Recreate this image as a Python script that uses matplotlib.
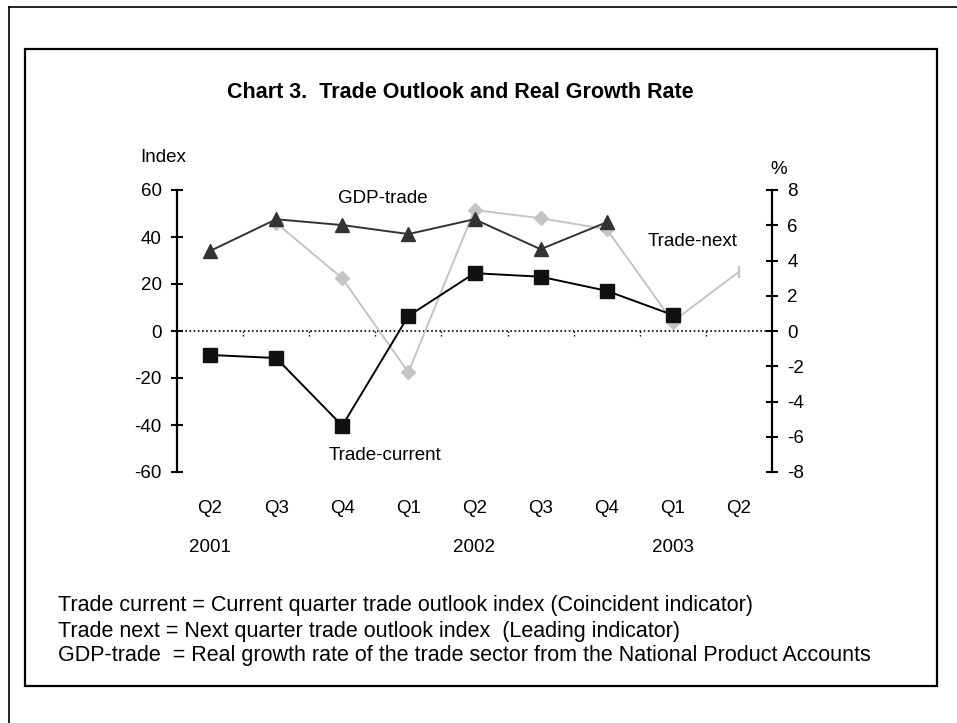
import numpy as np
import matplotlib
matplotlib.use("Agg")
import matplotlib.pyplot as plt
from matplotlib.lines import Line2D
from matplotlib.patches import Rectangle

plt.rcParams["font.family"] = ["Liberation Sans", "DejaVu Sans"]
plt.rcParams["axes.unicode_minus"] = False

# data
quarters = ["Q2", "Q3", "Q4", "Q1", "Q2", "Q3", "Q4", "Q1", "Q2"]
years = ["2001", "2002", "2003"]
year_idx = [0, 4, 7]
trade_current = [-10.2, -11.5, -40.3, 6.4, 24.6, 23.1, 17.1, 6.8, np.nan]
trade_next = [np.nan, 46.0, 22.4, -17.6, 51.5, 48.0, 43.3, 4.0, 25.2]
gdp_trade = [4.54, 6.34, 6.01, 5.5, 6.34, 4.64, 6.17, np.nan, np.nan]

W, H = 957, 723


def fx(px):
    return px / W


def fy(py):
    return 1 - py / H


fig = plt.figure(figsize=(W / 100, H / 100), dpi=100)

# frames
fig.add_artist(Line2D([fx(9), fx(9)], [fy(7), 0], color="black", lw=1.2))
fig.add_artist(Line2D([fx(9), 1], [fy(7), fy(7)], color="black", lw=1.2))
fig.add_artist(Rectangle((fx(25), fy(686)), fx(937) - fx(25), fy(49) - fy(686),
                         fill=False, ec="black", lw=1.6, transform=fig.transFigure))

fig.text(fx(460), fy(92), "Chart 3.  Trade Outlook and Real Growth Rate",
         ha="center", va="center", fontsize=15.5, fontweight="bold")

ax = fig.add_axes([fx(177), fy(472), fx(772) - fx(177), fy(190) - fy(472)])
x = np.arange(len(quarters))

ax.plot(x, trade_next, color="#c4c4c4", lw=1.4, marker="D", ms=7,
        markevery=slice(0, len(x) - 1), zorder=2)
ax.plot(x[-1:], trade_next[-1:], color="#c4c4c4", marker="|", ms=9, mew=1.6, zorder=2)
ax.plot(x, trade_current, color="black", lw=1.4, marker="s", ms=9.5,
        mfc="#111111", mec="#111111", zorder=3)

ax.axhline(0, color="black", lw=1.2, ls=(0, (1, 1.5)), zorder=1)
ax.vlines(x[:-1] + 0.5, -2.2, 0, color="black", lw=1.0, ls=(0, (1, 1.5)), zorder=1)

ax.set_xlim(-0.5, len(x) - 0.5)
ax.set_ylim(-60, 60)
ax.set_yticks(range(-60, 61, 20))
ax.set_xticks(x)
ax.set_xticklabels(quarters)
ax.tick_params(axis="x", length=0, pad=20, labelsize=13.5)
ax.tick_params(axis="y", direction="inout", length=8, width=1.5, pad=7, labelsize=13.5)
for s in ["top", "bottom", "right"]:
    ax.spines[s].set_visible(False)
ax.spines["left"].set_linewidth(1.6)

for i, yr in zip(year_idx, years):
    ax.text(i, -0.266, yr, transform=ax.get_xaxis_transform(), ha="center",
            va="center", fontsize=13.5)

ax2 = ax.twinx()
ax2.plot(x, gdp_trade, color="#333333", lw=1.4, marker="^", ms=9.5, zorder=4)
ax2.set_ylim(-8, 8)
ax2.set_yticks(range(-8, 9, 2))
ax2.tick_params(axis="y", direction="inout", length=8, width=1.5, pad=7, labelsize=13.5)
for s in ["top", "bottom", "left"]:
    ax2.spines[s].set_visible(False)
ax2.spines["right"].set_linewidth(1.6)

ax.text(2.62, 56.2, "GDP-trade", ha="center", va="center", fontsize=13.5)
ax.text(2.64, -52.8, "Trade-current", ha="center", va="center", fontsize=13.5)
ax.text(7.30, 38.0, "Trade-next", ha="center", va="center", fontsize=13.5)

fig.text(fx(163), fy(158), "Index", ha="center", va="center", fontsize=13.5)
fig.text(fx(779), fy(170), "%", ha="center", va="center", fontsize=13.5)

notes = [
    "Trade current = Current quarter trade outlook index (Coincident indicator)",
    "Trade next = Next quarter trade outlook index  (Leading indicator)",
    "GDP-trade  = Real growth rate of the trade sector from the National Product Accounts",
]
for k, line in enumerate(notes):
    fig.text(fx(58), fy(606 + 25 * k), line, ha="left", va="center", fontsize=15.5)

fig.savefig("out.png", dpi=100, facecolor="white")
